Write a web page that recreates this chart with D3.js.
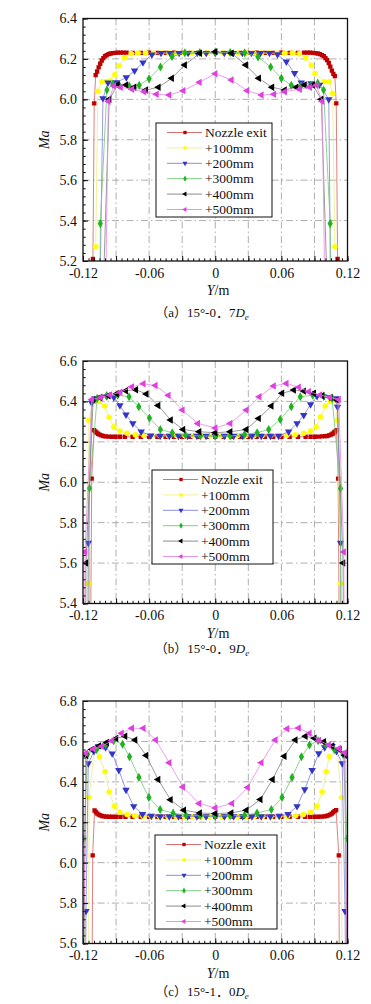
<!DOCTYPE html>
<html lang="zh">
<head>
<meta charset="utf-8">
<script src="https://unpkg.com/d3@7/dist/d3.min.js"></script>
<style>
html, body {
    margin: 0;
    padding: 0;
    background: #fff;
}
#chart {
    width: 371px;
    height: 1004px;
}
text {
    font-family: "Liberation Serif", "DejaVu Serif", serif;
    fill: #111;
}
</style>
</head>
<body>
<div id="chart"></div>

<script>
// legend names, one per series
var seriesNames = ["Nozzle exit", "+100mm", "+200mm", "+300mm", "+400mm", "+500mm"];

// tick values
var xMajorTicks = [-0.12, -0.09, -0.06, -0.03, 0, 0.03, 0.06, 0.09, 0.12];
var xLabelTicks = [-0.12, -0.06, 0, 0.06, 0.12];
var yTicksA = [5.2, 5.4, 5.6, 5.8, 6.0, 6.2, 6.4];
var yTicksB = [5.4, 5.6, 5.8, 6.0, 6.2, 6.4, 6.6];
var yTicksC = [5.6, 5.8, 6.0, 6.2, 6.4, 6.6, 6.8];

// (a) 15deg - 0.7De   [Y (m), Ma]
var aExit = [[-0.1110,5.21],[-0.1098,5.98],[-0.1085,6.12],[-0.1072,6.138],[-0.1058,6.158],[-0.1044,6.176],[-0.1030,6.192],[-0.1015,6.204],[-0.1000,6.213],[-0.0985,6.219],[-0.0968,6.224],[-0.0950,6.227],[-0.0930,6.229],[-0.0908,6.230],[-0.0884,6.231],[-0.0860,6.231],[-0.0835,6.231],[-0.0805,6.231],[-0.0750,6.230],[-0.0675,6.230],[-0.0600,6.231],[-0.0525,6.230],[-0.0450,6.230],[-0.0375,6.231],[-0.0300,6.230],[-0.0225,6.230],[-0.0150,6.231],[-0.0075,6.230],[0,6.230],[0.0075,6.230],[0.0150,6.231],[0.0225,6.230],[0.0300,6.230],[0.0375,6.231],[0.0450,6.230],[0.0525,6.230],[0.0600,6.231],[0.0675,6.230],[0.0750,6.230],[0.0805,6.231],[0.0835,6.231],[0.0860,6.231],[0.0884,6.230],[0.0908,6.229],[0.0930,6.227],[0.0950,6.224],[0.0968,6.219],[0.0985,6.213],[0.1000,6.204],[0.1015,6.194],[0.1030,6.180],[0.1044,6.162],[0.1058,6.142],[0.1072,6.126],[0.1085,6.115],[0.1098,5.98],[0.1110,5.21]];
var aP100 = [[-0.1085,5.27],[-0.1065,6.04],[-0.1030,6.087],[-0.0995,6.088],[-0.0955,6.092],[-0.0912,6.122],[-0.0872,6.166],[-0.0822,6.206],[-0.0762,6.225],[-0.0700,6.229],[-0.0630,6.229],[-0.0560,6.228],[-0.0490,6.229],[-0.0420,6.229],[-0.0350,6.228],[-0.0280,6.229],[-0.0210,6.229],[-0.0140,6.228],[-0.0070,6.229],[0,6.229],[0.0070,6.229],[0.0140,6.228],[0.0210,6.229],[0.0280,6.229],[0.0350,6.228],[0.0420,6.229],[0.0490,6.229],[0.0560,6.228],[0.0630,6.229],[0.0700,6.229],[0.0762,6.225],[0.0822,6.204],[0.0872,6.168],[0.0905,6.128],[0.0990,6.087],[0.1035,6.087],[0.1065,6.03],[0.1085,5.27]];
var aP200 = [[-0.1050,4.90],[-0.1019,6.005],[-0.0973,6.082],[-0.0898,6.084],[-0.0807,6.108],[-0.0732,6.142],[-0.0656,6.182],[-0.0575,6.221],[-0.0492,6.229],[-0.0410,6.229],[-0.0328,6.229],[-0.0246,6.229],[-0.0164,6.229],[-0.0082,6.229],[0,6.229],[0.0082,6.229],[0.0164,6.229],[0.0246,6.229],[0.0328,6.229],[0.0410,6.229],[0.0492,6.229],[0.0565,6.222],[0.0645,6.186],[0.0720,6.129],[0.0780,6.082],[0.0870,6.079],[0.0947,6.072],[0.1030,6.000],[0.1050,4.90]];
var aP300 = [[-0.1046,4.90],[-0.1043,5.385],[-0.0983,6.046],[-0.0930,6.075],[-0.0870,6.070],[-0.0780,6.066],[-0.0690,6.070],[-0.0600,6.102],[-0.0497,6.160],[-0.0392,6.212],[-0.0275,6.230],[-0.0140,6.232],[0,6.233],[0.0135,6.232],[0.0267,6.230],[0.0388,6.210],[0.0503,6.160],[0.0600,6.104],[0.0690,6.070],[0.0780,6.066],[0.0870,6.070],[0.0930,6.080],[0.0983,6.046],[0.1043,5.385],[0.1046,4.90]];
var aP400 = [[-0.1025,4.90],[-0.0962,6.000],[-0.0886,6.071],[-0.0810,6.071],[-0.0736,6.060],[-0.0630,6.046],[-0.0515,6.060],[-0.0395,6.104],[-0.0277,6.170],[-0.0140,6.228],[0,6.236],[0.0147,6.228],[0.0277,6.170],[0.0395,6.104],[0.0515,6.060],[0.0630,6.046],[0.0736,6.060],[0.0810,6.071],[0.0886,6.071],[0.0962,6.000],[0.1025,4.90]];
var aP500 = [[-0.0998,4.90],[-0.0970,5.990],[-0.0920,6.066],[-0.0858,6.060],[-0.0755,6.050],[-0.0645,6.038],[-0.0533,6.025],[-0.0418,6.021],[-0.0290,6.043],[-0.0143,6.084],[0,6.127],[0.0147,6.096],[0.0289,6.043],[0.0419,6.021],[0.0533,6.025],[0.0630,6.038],[0.0766,6.050],[0.0857,6.060],[0.0917,6.070],[0.0970,5.990],[0.0998,4.90]];

// (b) 15deg - 0.9De
var bExit = [[-0.1135,4.90],[-0.1121,6.018],[-0.1100,6.258],[-0.1090,6.252],[-0.1078,6.246],[-0.1064,6.240],[-0.1050,6.236],[-0.1034,6.232],[-0.1016,6.229],[-0.0995,6.227],[-0.0970,6.226],[-0.0940,6.225],[-0.0905,6.225],[-0.0865,6.225],[-0.0820,6.225],[-0.0750,6.225],[-0.0675,6.225],[-0.0600,6.225],[-0.0525,6.225],[-0.0450,6.225],[-0.0375,6.225],[-0.0300,6.225],[-0.0225,6.225],[-0.0150,6.225],[-0.0075,6.225],[0,6.225],[0.0075,6.225],[0.0150,6.225],[0.0225,6.225],[0.0300,6.225],[0.0375,6.225],[0.0450,6.225],[0.0525,6.225],[0.0600,6.225],[0.0675,6.225],[0.0750,6.225],[0.0820,6.225],[0.0865,6.225],[0.0905,6.225],[0.0940,6.226],[0.0970,6.227],[0.0995,6.228],[0.1016,6.229],[0.1034,6.232],[0.1050,6.236],[0.1064,6.240],[0.1078,6.246],[0.1090,6.252],[0.1100,6.258],[0.1115,6.018],[0.1130,4.90]];
var bP100 = [[-0.1156,4.90],[-0.1152,5.498],[-0.1148,6.307],[-0.1100,6.410],[-0.1052,6.400],[-0.1005,6.377],[-0.0962,6.322],[-0.0920,6.274],[-0.0864,6.253],[-0.0798,6.242],[-0.0725,6.235],[-0.0650,6.232],[-0.0575,6.230],[-0.0500,6.230],[-0.0425,6.230],[-0.0350,6.230],[-0.0275,6.230],[-0.0200,6.230],[-0.0125,6.230],[-0.0050,6.230],[0.0050,6.230],[0.0125,6.230],[0.0200,6.230],[0.0275,6.230],[0.0350,6.230],[0.0425,6.230],[0.0500,6.230],[0.0575,6.230],[0.0650,6.232],[0.0725,6.235],[0.0803,6.242],[0.0864,6.253],[0.0915,6.274],[0.0955,6.324],[0.0999,6.377],[0.1045,6.400],[0.1090,6.407],[0.1106,6.307],[0.1137,5.498],[0.1142,4.90]];
var bP200 = [[-0.1160,4.90],[-0.1152,5.700],[-0.1121,6.393],[-0.1091,6.415],[-0.1035,6.420],[-0.0985,6.424],[-0.0920,6.420],[-0.0865,6.380],[-0.0810,6.334],[-0.0748,6.291],[-0.0672,6.250],[-0.0585,6.231],[-0.0500,6.229],[-0.0417,6.229],[-0.0333,6.229],[-0.0250,6.229],[-0.0167,6.229],[-0.0083,6.229],[0,6.229],[0.0083,6.229],[0.0167,6.229],[0.0250,6.229],[0.0333,6.229],[0.0417,6.229],[0.0500,6.229],[0.0575,6.229],[0.0666,6.250],[0.0742,6.291],[0.0803,6.332],[0.0865,6.385],[0.0924,6.426],[0.0985,6.424],[0.1040,6.420],[0.1090,6.415],[0.1110,6.373],[0.1137,5.700],[0.1145,4.90]];
var bP300 = [[-0.1146,4.90],[-0.1142,5.970],[-0.1072,6.415],[-0.0985,6.429],[-0.0885,6.431],[-0.0782,6.423],[-0.0694,6.374],[-0.0597,6.318],[-0.0498,6.261],[-0.0390,6.245],[-0.0270,6.234],[-0.0135,6.229],[0,6.229],[0.0135,6.229],[0.0266,6.236],[0.0380,6.245],[0.0485,6.261],[0.0590,6.311],[0.0690,6.374],[0.0772,6.423],[0.0885,6.431],[0.0985,6.427],[0.1060,6.415],[0.1137,5.969],[0.1141,4.90]];
var bP400 = [[-0.1180,4.90],[-0.1173,5.600],[-0.1108,6.407],[-0.1045,6.420],[-0.0970,6.428],[-0.0894,6.438],[-0.0812,6.453],[-0.0720,6.458],[-0.0626,6.437],[-0.0518,6.380],[-0.0405,6.308],[-0.0292,6.261],[-0.0146,6.250],[0,6.245],[0.0136,6.250],[0.0282,6.261],[0.0394,6.316],[0.0509,6.377],[0.0606,6.440],[0.0712,6.456],[0.0803,6.451],[0.0894,6.440],[0.0970,6.428],[0.1045,6.420],[0.1106,6.407],[0.1160,5.600],[0.1167,4.90]];
var bP500 = [[-0.1188,4.90],[-0.1182,5.655],[-0.1120,6.410],[-0.1040,6.420],[-0.0955,6.432],[-0.0862,6.445],[-0.0757,6.472],[-0.0652,6.487],[-0.0543,6.479],[-0.0425,6.430],[-0.0298,6.357],[-0.0158,6.291],[0,6.269],[0.0136,6.291],[0.0282,6.357],[0.0400,6.423],[0.0530,6.476],[0.0645,6.489],[0.0757,6.470],[0.0848,6.448],[0.0950,6.432],[0.1040,6.420],[0.1120,6.410],[0.1166,5.655],[0.1174,4.90]];

// (c) 15deg - 1.0De
var cExit = [[-0.1118,5.40],[-0.1112,6.036],[-0.1095,6.258],[-0.1082,6.250],[-0.1070,6.243],[-0.1057,6.238],[-0.1043,6.234],[-0.1027,6.231],[-0.1010,6.229],[-0.0990,6.228],[-0.0965,6.227],[-0.0935,6.227],[-0.0900,6.227],[-0.0860,6.227],[-0.0815,6.227],[-0.0750,6.227],[-0.0675,6.227],[-0.0600,6.227],[-0.0525,6.227],[-0.0450,6.227],[-0.0375,6.227],[-0.0300,6.227],[-0.0225,6.227],[-0.0150,6.227],[-0.0075,6.227],[0,6.227],[0.0075,6.227],[0.0150,6.227],[0.0225,6.227],[0.0300,6.227],[0.0375,6.227],[0.0450,6.227],[0.0525,6.227],[0.0600,6.227],[0.0675,6.227],[0.0750,6.227],[0.0815,6.227],[0.0860,6.227],[0.0900,6.227],[0.0935,6.227],[0.0965,6.228],[0.0990,6.229],[0.1010,6.231],[0.1027,6.234],[0.1043,6.238],[0.1057,6.243],[0.1070,6.249],[0.1082,6.255],[0.1097,6.260],[0.1121,6.036],[0.1127,5.40]];
var cP100 = [[-0.1150,5.40],[-0.1145,6.323],[-0.1100,6.556],[-0.1050,6.524],[-0.1000,6.450],[-0.0962,6.350],[-0.0915,6.279],[-0.0865,6.250],[-0.0800,6.238],[-0.0730,6.232],[-0.0655,6.230],[-0.0580,6.229],[-0.0505,6.229],[-0.0430,6.229],[-0.0355,6.229],[-0.0280,6.229],[-0.0205,6.229],[-0.0130,6.229],[-0.0055,6.229],[0.0055,6.229],[0.0130,6.229],[0.0205,6.229],[0.0280,6.229],[0.0355,6.229],[0.0430,6.229],[0.0505,6.229],[0.0580,6.229],[0.0655,6.230],[0.0730,6.232],[0.0800,6.238],[0.0865,6.250],[0.0924,6.279],[0.0970,6.350],[0.1006,6.450],[0.1036,6.524],[0.1106,6.557],[0.1145,6.323],[0.1150,5.40]];
var cP200 = [[-0.1178,5.40],[-0.1173,5.760],[-0.1152,6.491],[-0.1100,6.552],[-0.1060,6.575],[-0.0995,6.570],[-0.0935,6.540],[-0.0875,6.458],[-0.0810,6.360],[-0.0740,6.279],[-0.0660,6.240],[-0.0580,6.231],[-0.0500,6.229],[-0.0417,6.229],[-0.0333,6.229],[-0.0250,6.229],[-0.0167,6.229],[-0.0083,6.229],[0,6.229],[0.0083,6.229],[0.0167,6.229],[0.0250,6.229],[0.0333,6.229],[0.0417,6.229],[0.0500,6.229],[0.0580,6.231],[0.0660,6.240],[0.0742,6.279],[0.0812,6.362],[0.0879,6.458],[0.0939,6.541],[0.0993,6.570],[0.1060,6.577],[0.1100,6.552],[0.1152,6.491],[0.1178,5.760],[0.1183,5.40]];
var cP300 = [[-0.1193,5.40],[-0.1190,6.119],[-0.1160,6.535],[-0.1076,6.560],[-0.0995,6.585],[-0.0921,6.603],[-0.0841,6.586],[-0.0778,6.524],[-0.0693,6.422],[-0.0602,6.323],[-0.0500,6.263],[-0.0382,6.245],[-0.0266,6.235],[-0.0135,6.232],[0,6.232],[0.0135,6.232],[0.0266,6.235],[0.0379,6.246],[0.0509,6.263],[0.0606,6.323],[0.0697,6.422],[0.0782,6.524],[0.0855,6.582],[0.0933,6.603],[0.1000,6.585],[0.1080,6.560],[0.1160,6.535],[0.1197,6.119],[0.1199,5.40]];
var cP400 = [[-0.1196,5.40],[-0.1172,6.530],[-0.1120,6.560],[-0.1055,6.578],[-0.0985,6.595],[-0.0900,6.615],[-0.0818,6.626],[-0.0727,6.607],[-0.0627,6.530],[-0.0518,6.412],[-0.0406,6.311],[-0.0285,6.260],[-0.0141,6.246],[0,6.243],[0.0145,6.246],[0.0282,6.260],[0.0409,6.313],[0.0520,6.412],[0.0627,6.527],[0.0727,6.607],[0.0818,6.626],[0.0899,6.616],[0.0985,6.598],[0.1061,6.577],[0.1127,6.560],[0.1175,6.532],[0.1196,5.40]];
var cP500 = [[-0.1198,5.40],[-0.1175,6.542],[-0.1106,6.562],[-0.1030,6.576],[-0.0939,6.603],[-0.0850,6.640],[-0.0757,6.665],[-0.0652,6.665],[-0.0540,6.607],[-0.0417,6.494],[-0.0294,6.374],[-0.0146,6.293],[0,6.271],[0.0152,6.293],[0.0294,6.372],[0.0418,6.494],[0.0545,6.607],[0.0652,6.663],[0.0757,6.666],[0.0855,6.640],[0.0940,6.605],[0.1030,6.582],[0.1121,6.565],[0.1175,6.544],[0.1198,5.40]];

// styles per series
var markerColors = ["#c00000", "#ffff00", "#3434c8", "#1fb31f", "#000000", "#e040e0"];
var lineColors = ["#d86060", "#eeee80", "#8080e0", "#74c874", "#808080", "#e48ae4"];
var markerShapes = ["square", "circle", "triDown", "diamond", "triLeft", "triLeft"];

var panels = [
    {key: "a", series: [aExit, aP100, aP200, aP300, aP400, aP500], yTicks: yTicksA,
     top: 18.5, legend: {x: 156, y: 123, w: 116}, caption: {y: 312, tag: "（a）15°-0．7"}},
    {key: "b", series: [bExit, bP100, bP200, bP300, bP400, bP500], yTicks: yTicksB,
     top: 361, legend: {x: 152, y: 470, w: 121}, caption: {y: 648, tag: "（b）15°-0．9"}},
    {key: "c", series: [cExit, cP100, cP200, cP300, cP400, cP500], yTicks: yTicksC,
     top: 701, legend: {x: 155, y: 835, w: 122}, caption: {y: 991, tag: "（c）15°-1．0"}}
];

var plotLeft = 83, plotRight = 347.5, plotHeight = 242.5;

var svg = d3.select("#chart").append("svg")
    .attr("width", 371)
    .attr("height", 1004);

function markerPath(shape, size) {
    var type = d3.symbolSquare;
    if (shape == "circle") type = d3.symbolCircle;
    if (shape == "diamond") type = d3.symbolDiamond;
    if (shape == "triDown" || shape == "triLeft") type = d3.symbolTriangle;
    return d3.symbol().type(type).size(size)();
}

function markerRotate(shape) {
    if (shape == "triDown") return 180;
    if (shape == "triLeft") return -90;
    return 0;
}

panels.forEach(drawPanel);

function drawPanel(p) {
    var top = p.top, bottom = p.top + plotHeight;
    var yDomain = d3.extent(p.yTicks);

    var xScale = d3.scaleLinear().domain([-0.12, 0.12]).range([plotLeft, plotRight]);
    var yScale = d3.scaleLinear().domain(yDomain).range([bottom, top]);

    var g = svg.append("g").classed("panel-" + p.key, true);

    g.append("clipPath").attr("id", "clip-" + p.key)
        .append("rect")
        .attr("x", plotLeft).attr("y", top)
        .attr("width", plotRight - plotLeft).attr("height", plotHeight);

    // dash-dot grid
    var grid = g.append("g").attr("stroke", "#9a9a9a").attr("stroke-width", 0.8)
        .attr("stroke-dasharray", "7,3,1.5,3");
    grid.selectAll(".vgrid")
        .data(xMajorTicks.slice(1, -1))
        .enter().append("line")
        .attr("x1", function(d){ return xScale(d); })
        .attr("x2", function(d){ return xScale(d); })
        .attr("y1", top).attr("y2", bottom);
    grid.selectAll(".hgrid")
        .data(p.yTicks.slice(1, -1))
        .enter().append("line")
        .attr("y1", function(d){ return yScale(d); })
        .attr("y2", function(d){ return yScale(d); })
        .attr("x1", plotLeft).attr("x2", plotRight);

    // curves and symbols
    var plot = g.append("g").attr("clip-path", "url(#clip-" + p.key + ")");
    var line = d3.line()
        .x(function(d){ return xScale(d[0]); })
        .y(function(d){ return yScale(d[1]); });

    p.series.forEach(function(data, i) {
        plot.append("path")
            .datum(data)
            .attr("fill", "none")
            .attr("stroke", lineColors[i])
            .attr("stroke-width", 0.8)
            .attr("d", line);
        plot.selectAll(".m" + i)
            .data(data)
            .enter().append("path")
            .attr("fill", markerColors[i])
            .attr("d", markerPath(markerShapes[i], markerShapes[i] == "square" ? 19 : 24))
            .attr("transform", function(d){
                return "translate(" + [xScale(d[0]), yScale(d[1])] + ") rotate(" + markerRotate(markerShapes[i]) + ")";
            });
    });

    // frame
    g.append("rect")
        .attr("x", plotLeft).attr("y", top)
        .attr("width", plotRight - plotLeft).attr("height", plotHeight)
        .attr("fill", "none").attr("stroke", "#111").attr("stroke-width", 1.3);

    // axes, ticks point inward
    var xMinor = d3.range(-120, 121, 5).map(function(v){ return v / 1000; });
    var yMinor = d3.range(Math.round(yDomain[0] * 100), Math.round(yDomain[1] * 100) + 1, 4)
        .map(function(v){ return v / 100; });

    var xAxis = d3.axisBottom(xScale)
        .tickValues(xMajorTicks)
        .tickSizeInner(-5).tickSizeOuter(0).tickPadding(7)
        .tickFormat(function(d){
            if (xLabelTicks.indexOf(d) < 0) return "";
            return d == 0 ? "0" : d.toFixed(2);
        });
    var xAxisMinor = d3.axisBottom(xScale).tickValues(xMinor)
        .tickSizeInner(-2.7).tickSizeOuter(0).tickFormat("");
    var yAxis = d3.axisLeft(yScale)
        .tickValues(p.yTicks)
        .tickSizeInner(-5).tickSizeOuter(0).tickPadding(6)
        .tickFormat(function(d){ return d.toFixed(1); });
    var yAxisMinor = d3.axisLeft(yScale).tickValues(yMinor)
        .tickSizeInner(-2.7).tickSizeOuter(0).tickFormat("");

    [xAxisMinor, xAxis].forEach(function(ax) {
        g.append("g").attr("transform", "translate(0," + bottom + ")").call(ax);
    });
    [yAxisMinor, yAxis].forEach(function(ax) {
        g.append("g").attr("transform", "translate(" + plotLeft + ",0)").call(ax);
    });
    g.selectAll(".domain").remove();
    g.selectAll(".tick line").attr("stroke", "#111").attr("stroke-width", 1);
    g.selectAll(".tick text")
        .style("font-family", "'Liberation Serif', serif")
        .style("font-size", "14px").attr("fill", "#111");

    // axis titles
    g.append("text")
        .attr("transform", "translate(49," + (top + plotHeight / 2) + ") rotate(-90)")
        .attr("text-anchor", "middle")
        .style("font-size", "14px")
        .style("font-style", "italic")
        .text("Ma");

    var xTitle = g.append("text")
        .attr("x", 218).attr("y", bottom + 34)
        .attr("text-anchor", "middle")
        .style("font-size", "14px");
    xTitle.append("tspan").style("font-style", "italic").text("Y");
    xTitle.append("tspan").text("/m");

    // caption under the panel
    var cap = g.append("text")
        .attr("x", 202).attr("y", p.caption.y + 4.5)
        .attr("text-anchor", "middle")
        .style("font-family", "'Liberation Serif', 'Noto Sans CJK SC', serif")
        .style("font-size", "13px");
    cap.append("tspan").text(p.caption.tag);
    cap.append("tspan").style("font-style", "italic").text("D");
    cap.append("tspan").style("font-style", "italic").style("font-size", "9px")
        .attr("dy", 3).text("e");

    // legend
    var lg = g.append("g").attr("transform", "translate(" + [p.legend.x, p.legend.y] + ")");
    lg.append("rect")
        .attr("width", p.legend.w).attr("height", 94)
        .attr("fill", "#fff").attr("stroke", "#111").attr("stroke-width", 1);
    var item = lg.selectAll(".item")
        .data(seriesNames)
        .enter().append("g")
        .attr("transform", function(d, i){ return "translate(0," + (9.5 + i * 15.4) + ")"; });
    item.append("line")
        .attr("x1", 11).attr("x2", 46)
        .attr("stroke", function(d, i){ return lineColors[i]; })
        .attr("stroke-width", 0.9);
    item.append("path")
        .attr("fill", function(d, i){ return markerColors[i]; })
        .attr("d", function(d, i){ return markerPath(markerShapes[i], 11); })
        .attr("transform", function(d, i){ return "translate(29,0) rotate(" + markerRotate(markerShapes[i]) + ")"; });
    item.append("text")
        .attr("x", 49).attr("y", 4.6)
        .style("font-size", "13.5px")
        .text(function(d){ return d; });
}
</script>
</body>
</html>
